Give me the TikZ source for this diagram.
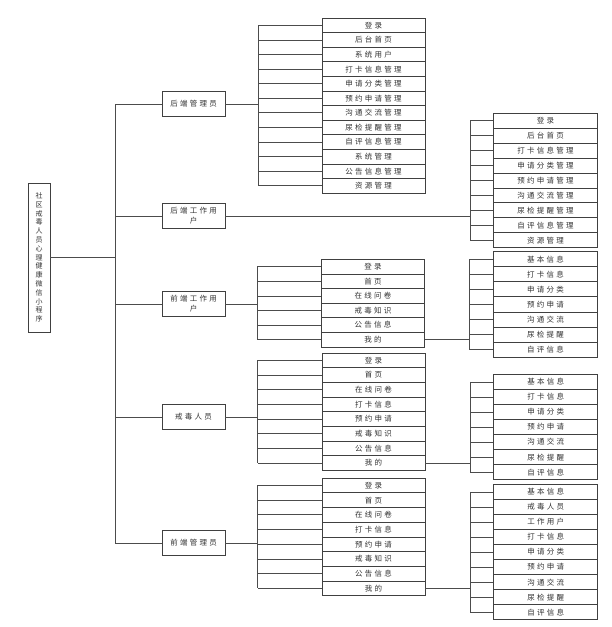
\documentclass[tikz,border=0pt]{standalone}
\usepackage{fontspec}
\newfontfamily\cjk[LetterSpace=30]{Noto Sans CJK SC}
\newfontfamily\cjkplain{Noto Sans CJK SC}
\newcommand\mkstack[6]{%
  \foreach \t [count=\i] in {#6} {
    \node[#5, minimum height=#4pt] (#1\i) at (#2, {#3+(\i-1)*#4}) {\t};
  }}
\newcommand\mkbracket[4]{%
  \foreach \i in {1,...,#2} {\draw[conn] (#1\i.west) -- (#1\i.west -| #3);}
  \draw[conn] (#11.west -| #3) -- (#1#2.west -| #3);
  \draw[conn] (#4.east) -- (#4.east -| #3);}
\begin{document}
\begin{tikzpicture}[x=1pt,y=-1pt,
  box/.style={draw=black!75, line width=0.8pt, fill=white, inner sep=0pt, text=black!80, font=\cjk\fontsize{7.5}{10}\selectfont},
  lone/.style={box, minimum width=63pt, minimum height=24.7pt, align=center},
  ltwo/.style={box, minimum width=103pt, anchor=north west},
  lthree/.style={box, minimum width=104pt, anchor=north west},
  conn/.style={draw=black!70, line width=0.8pt}]
\useasboundingbox (0,0) rectangle (611,627);
\fill[white] (0,0) rectangle (611,627);
% root
\node[box, minimum width=22pt, minimum height=149pt, align=center, font=\cjkplain\fontsize{7}{8.8}\selectfont] (root) at (39,257.5)
  {社\\区\\戒\\毒\\人\\员\\心\\理\\健\\康\\微\\信\\小\\程\\序};
% level 1
\node[lone] (La) at (193.5,104) {后端管理员};
\node[lone] (Lb) at (193.5,216) {后端工作用\\户};
\node[lone] (Lc) at (193.5,304) {前端工作用\\户};
\node[lone] (Ld) at (193.5,417) {戒毒人员};
\node[lone] (Le) at (193.5,543) {前端管理员};
% bracket coordinates
\coordinate (mv) at (115,0);
\coordinate (bA) at (258.3,0);
\coordinate (bB) at (470,0);
\coordinate (bC) at (257,0);
\coordinate (bCm) at (469,0);
\coordinate (bD) at (257.6,0);
\coordinate (bDm) at (470,0);
\coordinate (bE) at (257.6,0);
\coordinate (bEm) at (470,0);
% stacks
\mkstack{A}{321.5}{17.7}{14.58}{ltwo}{登录,后台首页,系统用户,打卡信息管理,申请分类管理,预约申请管理,沟通交流管理,尿检提醒管理,自评信息管理,系统管理,公告信息管理,资源管理}
\mkstack{B}{493}{112.7}{14.96}{lthree}{登录,后台首页,打卡信息管理,申请分类管理,预约申请管理,沟通交流管理,尿检提醒管理,自评信息管理,资源管理}
\mkstack{C}{321}{259}{14.6}{ltwo}{登录,首页,在线问卷,戒毒知识,公告信息,我的}
\mkstack{Cm}{493}{251.3}{15.06}{lthree}{基本信息,打卡信息,申请分类,预约申请,沟通交流,尿检提醒,自评信息}
\mkstack{D}{321.5}{352.7}{14.67}{ltwo}{登录,首页,在线问卷,打卡信息,预约申请,戒毒知识,公告信息,我的}
\mkstack{Dm}{493.3}{374}{15.04}{lthree}{基本信息,打卡信息,申请分类,预约申请,沟通交流,尿检提醒,自评信息}
\mkstack{E}{321.5}{477.7}{14.7}{ltwo}{登录,首页,在线问卷,打卡信息,预约申请,戒毒知识,公告信息,我的}
\mkstack{Em}{493.3}{484}{15.04}{lthree}{基本信息,戒毒人员,工作用户,打卡信息,申请分类,预约申请,沟通交流,尿检提醒,自评信息}
% main trunk
\draw[conn] (root.east) -- (root.east -| mv);
\draw[conn] (La.west -| mv) -- (Le.west -| mv);
\foreach \n in {La,Lb,Lc,Ld,Le} {\draw[conn] (\n.west) -- (\n.west -| mv);}
% brackets
\mkbracket{A}{12}{bA}{La}
\mkbracket{B}{9}{bB}{Lb}
\mkbracket{C}{6}{bC}{Lc}
\mkbracket{Cm}{7}{bCm}{C6}
\mkbracket{D}{8}{bD}{Ld}
\mkbracket{Dm}{7}{bDm}{D8}
\mkbracket{E}{8}{bE}{Le}
\mkbracket{Em}{9}{bEm}{E8}
\end{tikzpicture}
\end{document}
